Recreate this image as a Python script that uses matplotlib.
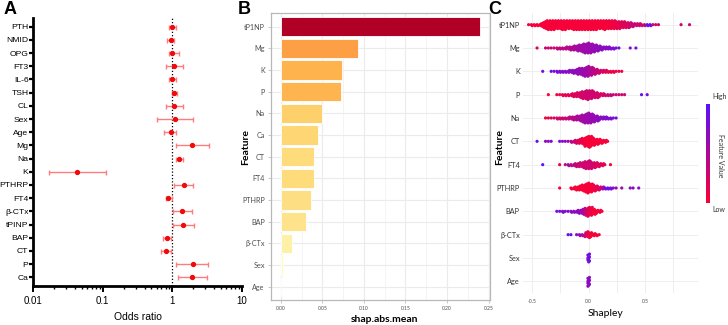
import numpy as np
import matplotlib
matplotlib.use("Agg")
import matplotlib.pyplot as plt
from matplotlib.colors import LinearSegmentedColormap
from matplotlib.ticker import LogLocator, FixedLocator, NullFormatter

# ---------------- Panel A data (odds ratios) ----------------
or_labels = ["PTH", "NMID", "OPG", "FT3", "IL-6", "TSH", "CL", "Sex", "Age", "Mg",
             "Na", "K", "PTHRP", "FT4", "β-CTx", "tPINP", "BAP", "CT", "P", "Ca"]
or_value = [1.00, 0.96, 1.00, 1.06, 0.99, 1.05, 1.06, 1.08, 0.95, 1.94,
            1.25, 0.043, 1.49, 0.875, 1.36, 1.44, 0.85, 0.81, 1.96, 1.94]
or_low = [0.91, 0.85, 0.91, 0.81, 0.91, 0.98, 0.81, 0.60, 0.77, 1.13,
          1.12, 0.017, 1.06, 0.82, 1.03, 1.01, 0.74, 0.69, 1.15, 1.22]
or_high = [1.12, 1.07, 1.25, 1.41, 1.12, 1.18, 1.41, 2.00, 1.13, 3.33,
           1.41, 0.111, 2.00, 0.98, 1.94, 2.07, 0.95, 0.96, 3.30, 3.12]
or_ticks = [0.01, 0.1, 1, 10]
or_ticklabels = ["0.01", "0.1", "1", "10"]

# ---------------- Panel B data (mean |SHAP|) ----------------
shap_features = ["tP1NP", "Mg", "K", "P", "Na", "Ca", "CT", "FT4", "PTHRP", "BAP",
                 "β-CTx", "Sex", "Age"]
shap_mean = [0.2395, 0.0925, 0.0737, 0.0720, 0.0500, 0.0444, 0.0400, 0.0398, 0.0360,
             0.0304, 0.0132, 0.0024, 0.0005]
shap_ticks = [0.00, 0.05, 0.10, 0.15, 0.20, 0.25]
shap_ticklabels = ["0.00", "0.05", "0.10", "0.15", "0.20", "0.25"]

# ---------------- Panel C data (beeswarm, dots per 0.025-wide Shapley bin) ----------------
swarm_features = ["tP1NP", "Mg", "K", "P", "Na", "CT", "FT4", "PTHRP", "BAP", "β-CTx", "Sex", "Age"]
swarm_start = [-0.525, -0.45, -0.40, -0.35, -0.375, -0.45, -0.40, -0.25, -0.275, -0.175, 0.0, 0.0]

tp1np_counts = [1, 2, 2, 2, 3, 6, 9, 10, 10, 10,
                9, 9, 10, 10, 9, 9, 10, 10, 10, 10,
                10, 10, 10, 10, 10, 9, 9, 10, 9, 9,
                9, 8, 8, 7, 7, 6, 5, 4, 3, 3,
                2, 2, 2, 2, 1, 1, 1, 0, 0, 0,
                0, 0, 0, 0, 1, 0, 0, 1]
tp1np_fval = [0.1, 0.05, 0.05, 0.05, 0.05, 0.05, 0.05, 0.05, 0.05, 0.05,
              0.05, 0.05, 0.05, 0.05, 0.05, 0.05, 0.05, 0.05, 0.05, 0.05,
              0.05, 0.05, 0.05, 0.05, 0.05, 0.05, 0.05, 0.05, 0.06, 0.08,
              0.1, 0.12, 0.15, 0.2, 0.2, 0.25, 0.3, 0.35, 0.3, 0.3,
              0.3, 0.35, 0.9, 1.0, 0.3, 0.3, 0.3, 0, 0, 0,
              0, 0, 0, 0, 0.3, 0, 0, 0.35]
mg_counts = [1, 0, 0, 1, 1, 1, 1, 2, 2, 2,
             3, 3, 4, 5, 6, 7, 9, 10, 11, 10,
             8, 7, 5, 4, 3, 3, 2, 2, 1, 1,
             0, 0, 0, 1, 0, 1]
mg_fval = [0.2, 0, 0, 0.3, 0.3, 0.35, 0.3, 0.35, 0.4, 0.4,
           0.4, 0.45, 0.45, 0.5, 0.55, 0.55, 0.6, 0.6, 0.6, 0.62,
           0.65, 0.65, 0.7, 0.7, 0.7, 0.75, 0.75, 0.8, 0.8, 0.85,
           0, 0, 0, 0.7, 0, 0.9]
k_counts = [1, 0, 0, 1, 1, 2, 2, 2, 2, 3,
            3, 4, 6, 7, 8, 10, 11, 9, 7, 5,
            4, 3, 3, 2, 2, 2, 1, 1, 1]
k_fval = [0.85, 0, 0, 0.9, 0.8, 0.8, 0.75, 0.75, 0.75, 0.7,
          0.7, 0.7, 0.65, 0.65, 0.6, 0.6, 0.55, 0.45, 0.4, 0.35,
          0.3, 0.25, 0.2, 0.15, 0.15, 0.1, 0.1, 0.1, 0.1]
p_counts = [1, 0, 0, 1, 1, 2, 2, 2, 3, 4,
            5, 6, 8, 9, 10, 9, 7, 6, 4, 3,
            2, 2, 2, 1, 1, 1, 1, 1, 0, 0,
            0, 0, 0, 1, 0, 1]
p_fval = [0.05, 0, 0, 0.1, 0.1, 0.15, 0.15, 0.15, 0.2, 0.2,
          0.2, 0.25, 0.25, 0.3, 0.3, 0.3, 0.3, 0.25, 0.25, 0.25,
          0.3, 0.3, 0.35, 0.35, 0.3, 0.3, 0.3, 0.3, 0, 0,
          0, 0, 0, 0.95, 0, 0.8]
na_counts = [1, 1, 1, 1, 2, 2, 2, 2, 3, 3,
             4, 5, 6, 8, 10, 11, 10, 8, 6, 4,
             3, 3, 2, 2, 1, 1]
na_fval = [0.1, 0.1, 0.2, 0.2, 0.25, 0.3, 0.3, 0.35, 0.35, 0.4,
           0.45, 0.5, 0.55, 0.55, 0.6, 0.6, 0.62, 0.65, 0.65, 0.7,
           0.7, 0.75, 0.75, 0.8, 0.85, 0.85]
ct_counts = [1, 0, 0, 1, 1, 1, 0, 0, 1, 1,
             1, 1, 2, 3, 4, 5, 7, 10, 12, 11,
             8, 6, 5, 4, 3, 1]
ct_fval = [0.95, 0, 0, 0.7, 0.65, 0.75, 0, 0, 0.8, 0.7,
           0.75, 0.6, 0.45, 0.35, 0.25, 0.15, 0.1, 0.05, 0.05, 0.05,
           0.05, 0.05, 0.05, 0.05, 0.05, 0.05]
ft4_counts = [1, 0, 0, 0, 0, 0, 1, 0, 1, 2,
              2, 3, 4, 5, 6, 8, 9, 8, 6, 5,
              4, 3, 1, 0, 1]
ft4_fval = [1.0, 0, 0, 0, 0, 0, 0.1, 0, 0.45, 0.5,
            0.45, 0.4, 0.35, 0.3, 0.3, 0.3, 0.3, 0.3, 0.25, 0.2,
            0.2, 0.15, 0.15, 0, 0.05]
pthrp_counts = [1, 0, 0, 0, 2, 3, 4, 5, 7, 9,
                11, 9, 7, 5, 4, 3, 2, 2, 2, 1,
                1, 0, 1, 0, 0, 1, 1, 0, 1]
pthrp_fval = [0.05, 0, 0, 0, 0.05, 0.05, 0.05, 0.05, 0.05, 0.05,
              0.05, 0.05, 0.1, 0.15, 0.2, 0.5, 0.85, 0.9, 0.85, 0.8,
              0.6, 0, 0.6, 0, 0, 0.65, 0.7, 0, 0.7]
bap_counts = [1, 1, 2, 1, 1, 2, 2, 3, 4, 6,
              8, 10, 9, 6, 4, 3, 1]
bap_fval = [0.85, 0.8, 0.8, 0.75, 0.75, 0.7, 0.7, 0.7, 0.65, 0.55,
            0.35, 0.15, 0.1, 0.05, 0.05, 0.05, 0.05]
bctx_counts = [1, 1, 0, 1, 2, 2, 5, 7, 5, 3, 2, 1]
bctx_fval = [0.95, 0.9, 0, 0.7, 0.65, 0.6, 0.3, 0.1, 0.05, 0.05, 0.05, 0.05]
sex_counts = [9]
sex_fval = [0.85]
age_counts = [10]
age_fval = [0.7]

swarm_counts = [tp1np_counts, mg_counts, k_counts, p_counts, na_counts, ct_counts,
                ft4_counts, pthrp_counts, bap_counts, bctx_counts, sex_counts, age_counts]
swarm_fvals = [tp1np_fval, mg_fval, k_fval, p_fval, na_fval, ct_fval,
               ft4_fval, pthrp_fval, bap_fval, bctx_fval, sex_fval, age_fval]
bin_width = 0.025
shapley_ticks = [-0.5, 0.0, 0.5]
shapley_ticklabels = ["-0.5", "0.0", "0.5"]

# ---------------- Figure ----------------
W, H = 728, 325
fig = plt.figure(figsize=(W / 100, H / 100), dpi=100)


def box(x0, y0, x1, y1):
    return [x0 / W, 1 - y1 / H, (x1 - x0) / W, (y1 - y0) / H]


fontA = ["Liberation Sans", "DejaVu Sans"]
fontB = ["Lato", "DejaVu Sans"]

# ---------- Panel A ----------
axA = fig.add_axes(box(33.3, 18, 241.7, 286))
ypos = np.arange(len(or_labels))
or_value_a = np.array(or_value)
err = [or_value_a - np.array(or_low), np.array(or_high) - or_value_a]
axA.errorbar(or_value, ypos, xerr=err, fmt="none", ecolor="#FF7C7C", elinewidth=1.0,
             capsize=1.8, capthick=1.0, zorder=2)
axA.plot(or_value, ypos, "o", color="#F00A0A", markersize=2.8, zorder=3)
axA.axvline(1, color="black", linestyle=(0, (1, 1.6)), linewidth=0.9, zorder=1)
axA.set_xscale("log")
axA.set_xlim(0.01, 10)
axA.set_ylim(len(or_labels) - 1 + 0.66, -0.66)
axA.set_yticks(ypos)
axA.set_yticklabels(or_labels, fontsize=6.1, family=fontA)
axA.xaxis.set_major_locator(FixedLocator(or_ticks))
axA.set_xticklabels(or_ticklabels, fontsize=7, family=fontA)
axA.xaxis.set_minor_locator(LogLocator(base=10, subs=np.arange(2, 10)))
axA.xaxis.set_minor_formatter(NullFormatter())
for s in ["top", "right"]:
    axA.spines[s].set_visible(False)
for s in ["left", "bottom"]:
    axA.spines[s].set_linewidth(2.0)
axA.tick_params(axis="y", length=3, width=1.6, pad=0.5)
axA.tick_params(axis="x", which="major", length=4, width=1.4, pad=3)
axA.tick_params(axis="x", which="minor", length=2.5, width=1.0)
fig.text(137.5 / W, 1 - 316.5 / H, "Odds ratio", ha="center", va="center",
         fontsize=7.5, family=fontA)
fig.text(4 / W, 1 - 9.5 / H, "A", ha="left", va="center", fontsize=13,
         fontweight="bold", family=fontA)

# ---------- Panel B ----------
axB = fig.add_axes(box(271, 13.3, 490, 300))
yb = np.arange(len(shap_features))
cmapB = plt.get_cmap("YlOrRd")
vmax = max(shap_mean)
bar_colors = [cmapB(0.9 * (v / vmax) ** 0.75) for v in shap_mean]
axB.barh(yb, shap_mean, height=0.9, color=bar_colors, edgecolor="white",
         linewidth=0.6, zorder=2)
axB.set_xlim(-0.0117, 0.2516)
axB.set_ylim(len(shap_features) - 1 + 0.617, -0.617)
axB.set_xticks(shap_ticks)
axB.set_xticklabels(shap_ticklabels, fontsize=3.6, color="#4D4D4D", family=fontB)
axB.set_xticks([0.025, 0.075, 0.125, 0.175, 0.225], minor=True)
axB.set_yticks(yb)
axB.set_yticklabels(shap_features, fontsize=5.2, color="#4D4D4D", family=fontB)
axB.grid(True, which="major", color="#EBEBEB", linewidth=0.8, zorder=0)
axB.grid(True, which="minor", axis="x", color="#F2F2F2", linewidth=0.6, zorder=0)
axB.set_axisbelow(True)
for s in axB.spines.values():
    s.set_color("#B8B8B8")
    s.set_linewidth(0.9)
axB.tick_params(axis="both", which="major", length=2, width=0.5, color="#B3B3B3", pad=2.5)
axB.tick_params(axis="x", which="minor", length=0)
fig.text(385 / W, 1 - 319 / H, "shap.abs.mean", ha="center", va="center",
         fontsize=7.5, fontweight="bold", family=fontB)
fig.text(245.5 / W, 1 - 147 / H, "Feature", ha="center", va="center", rotation=90,
         fontsize=7.5, fontweight="bold", family=fontB)
fig.text(238 / W, 1 - 9.5 / H, "B", ha="left", va="center", fontsize=13,
         fontweight="bold", family=fontA)

# ---------- Panel C ----------
axC = fig.add_axes(box(522.6, 13, 698, 293))
cmapC = LinearSegmentedColormap.from_list("shap", ["#FF0030", "#5A10FF"])
dy = 0.042
xs, ys, cs = [], [], []
for row, (start, cnt, fv) in enumerate(zip(swarm_start, swarm_counts, swarm_fvals)):
    for j, (n, f) in enumerate(zip(cnt, fv)):
        centre = start + j * bin_width
        for i in range(n):
            k = (i + 1) // 2
            sign = 1 if i % 2 else -1
            xs.append(centre + ((i % 3) - 1) * 0.007)
            ys.append(row + sign * k * dy)
            cs.append(f)
axC.scatter(xs, ys, c=cs, cmap=cmapC, vmin=0, vmax=1, s=5.2, linewidths=0, zorder=3)
axC.set_xlim(-0.585, 0.968)
axC.set_ylim(len(swarm_features) - 0.5, -0.5)
axC.set_yticks(np.arange(len(swarm_features)))
axC.set_yticklabels(swarm_features, fontsize=5.3, color="#333333", family=fontB)
axC.set_xticks(shapley_ticks)
axC.set_xticklabels(shapley_ticklabels, fontsize=3.6, color="#4D4D4D", family=fontB)
axC.set_xticks([-0.25, 0.25, 0.75], minor=True)
axC.grid(True, which="both", color="#EEEEEE", linewidth=0.7, zorder=0)
axC.set_axisbelow(True)
for s in axC.spines.values():
    s.set_visible(False)
axC.tick_params(axis="both", which="both", length=0, pad=2)
axC.tick_params(axis="x", pad=4)
fig.text(605 / W, 1 - 313 / H, "Shapley", ha="center", va="center",
         fontsize=7.5, family=fontB)
fig.text(500 / W, 1 - 147 / H, "Feature", ha="center", va="center", rotation=90,
         fontsize=7.5, fontweight="bold", family=fontB)
fig.text(488 / W, 1 - 9.5 / H, "C", ha="left", va="center", fontsize=13,
         fontweight="bold", family=fontA)

# colour bar
axCB = fig.add_axes(box(706, 104, 709.3, 202.7))
grad = np.linspace(1, 0, 256).reshape(-1, 1)
axCB.imshow(grad, aspect="auto", cmap=cmapC, vmin=0, vmax=1)
axCB.set_axis_off()
fig.text(712.5 / W, 1 - 97 / H, "High", ha="left", va="center", fontsize=5,
         color="#333333", family=fontB)
fig.text(712.5 / W, 1 - 209.5 / H, "Low", ha="left", va="center", fontsize=5,
         color="#333333", family=fontB)
fig.text(720.5 / W, 1 - 156 / H, "Feature Value", ha="center", va="center",
         rotation=270, fontsize=5, color="#333333", family=fontB)

fig.savefig("out.png", dpi=100)
